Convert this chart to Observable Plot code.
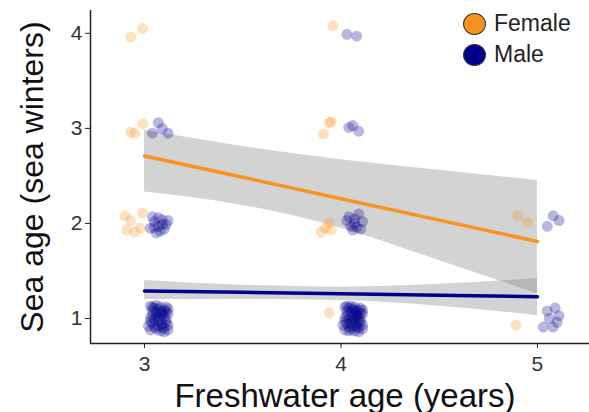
<!DOCTYPE html>
<html>
<head>
<meta charset="utf-8">
<script src="https://cdn.jsdelivr.net/npm/d3@7"></script>
<script src="https://cdn.jsdelivr.net/npm/@observablehq/plot@0.6"></script>
<style>
  body { margin: 0; background: #fff; font-family: "Liberation Sans", Arial, sans-serif; }
  #wrap { position: relative; width: 589px; height: 412px; }
  #legend { position: absolute; left: 463px; top: 8px; font-size: 23px; color: #222; }
  #legend .row { display: flex; align-items: center; height: 31px; }
  #legend .sw { width: 23px; height: 22px; border-radius: 50%; border: 1.5px solid #3a3a3a; margin-right: 8px; box-sizing: border-box; }
</style>
</head>
<body>
<div id="wrap"></div>
<script>
const sexes = ["Female", "Male"];
const colors = ["#F7931E", "#00008B"];
const xTicks = [3, 4, 5];
const yTicks = [1, 2, 3, 4];
const xDomain = [2.725, 5.265];
const yDomain = [0.737, 4.24];

const femalePoints = [
  [2.93,3.96],[2.99,4.05],
  [2.95,2.95],[2.99,3.05],[2.93,2.96],
  [2.90,2.08],[2.93,2.03],[2.91,1.93],[2.95,1.91],[2.99,2.11],[2.98,1.95],
  [3.96,4.08],
  [3.94,3.06],[3.91,2.94],[3.95,3.07],
  [3.90,1.91],[3.94,2.01],[3.95,1.93],[3.92,1.95],
  [3.94,1.06],
  [4.90,2.08],[4.95,2.01],
  [4.89,0.93]
];
const malePoints = [
  [3.07,3.06],[3.04,2.95],[3.12,2.95],[3.09,3.00],
  [3.03,1.95],[3.05,2.02],[3.07,1.97],[3.09,2.04],[3.11,1.99],[3.04,2.07],[3.08,1.92],[3.10,1.94],[3.06,1.90],[3.12,2.03],[3.07,2.06],[3.05,1.96],[3.09,1.99],
  [3.03,0.88],[3.05,0.91],[3.08,0.87],[3.10,0.90],[3.12,0.88],[3.04,0.95],[3.07,0.97],[3.09,0.94],[3.11,0.96],[3.03,1.01],[3.06,1.03],[3.08,0.99],[3.10,1.02],[3.12,1.05],[3.04,1.08],[3.07,1.10],[3.09,1.07],[3.11,1.12],[3.03,1.13],[3.06,1.14],[3.08,1.12],[3.05,0.99],[3.09,1.04],[3.02,0.92],[3.11,0.99],[3.06,1.07],[3.10,1.09],[3.04,1.03],[3.07,0.92],[3.12,0.93],[3.05,1.11],[3.08,1.06],[3.03,0.97],[3.10,0.86],[3.06,0.89],[3.12,1.10],[3.04,1.12],[3.09,0.91],[3.07,1.01],[3.11,1.07],
  [4.03,3.99],[4.08,3.97],
  [4.04,3.01],[4.09,2.97],[4.06,3.03],
  [4.03,2.03],[4.05,1.97],[4.07,2.05],[4.09,2.10],[4.11,2.02],[4.06,1.93],[4.08,1.96],[4.04,2.07],[4.10,1.94],[4.07,2.00],
  [4.02,0.88],[4.04,0.91],[4.07,0.87],[4.09,0.90],[4.11,0.89],[4.03,0.95],[4.06,0.97],[4.08,0.94],[4.10,0.96],[4.02,1.01],[4.05,1.03],[4.07,0.99],[4.09,1.02],[4.11,1.05],[4.03,1.08],[4.06,1.10],[4.08,1.07],[4.10,1.11],[4.02,1.12],[4.05,1.13],[4.07,1.12],[4.04,0.99],[4.08,1.04],[4.01,0.93],[4.10,0.99],[4.05,1.07],[4.09,1.09],[4.03,1.03],[4.06,0.92],[4.11,0.93],[4.04,1.11],[4.07,1.06],[4.02,0.97],[4.09,0.86],[4.05,0.89],[4.11,1.09],[4.03,1.13],[4.08,0.91],[4.06,1.01],[4.10,1.06],[4.04,0.87],[4.07,1.09],[4.09,0.97],[4.05,0.95],[4.08,1.01],
  [5.08,2.08],[5.11,2.03],[5.05,1.97],
  [5.05,1.08],[5.09,1.11],[5.11,1.03],[5.03,0.91],[5.08,0.91],[5.10,0.96],[5.06,1.00]
];

// fitted lines and confidence bands
const fitX = [3, 3.5, 4, 4.5, 5];
const femaleFit = [2.71, 2.485, 2.26, 2.035, 1.81];
const femaleLo  = [2.33, 2.19, 1.95, 1.61, 1.26];
const femaleHi  = [2.98, 2.81, 2.67, 2.56, 2.45];
const maleFit = [1.29, 1.275, 1.26, 1.245, 1.23];
const maleLo  = [1.20, 1.20, 1.19, 1.13, 1.03];
const maleHi  = [1.40, 1.35, 1.33, 1.36, 1.42];

const pts = [
  ...femalePoints.map(([x, y]) => ({x, y, sex: "Female"})),
  ...malePoints.map(([x, y]) => ({x, y, sex: "Male"}))
];
const fits = [
  ...fitX.map((x, i) => ({x, y: femaleFit[i], lo: femaleLo[i], hi: femaleHi[i], sex: "Female"})),
  ...fitX.map((x, i) => ({x, y: maleFit[i], lo: maleLo[i], hi: maleHi[i], sex: "Male"}))
];

const chart = Plot.plot({
  width: 589,
  height: 412,
  marginLeft: 90,
  marginRight: 0,
  marginTop: 10,
  marginBottom: 69,
  style: {fontFamily: "'Liberation Sans', Arial, sans-serif", background: "#fff", color: "#333", overflow: "visible"},
  x: {domain: xDomain, ticks: xTicks},
  y: {domain: yDomain, ticks: yTicks},
  color: {domain: sexes, range: colors},
  marks: [
    Plot.areaY(fits, {x: "x", y1: "lo", y2: "hi", z: "sex", fill: "#808080", fillOpacity: 0.35, curve: "monotone-x"}),
    Plot.dot(pts, {x: "x", y: "y", r: 5.5, fill: "sex", fillOpacity: 0.28}),
    Plot.line(fits, {x: "x", y: "y", z: "sex", stroke: "sex", strokeWidth: 3.5, curve: "linear"}),
    Plot.ruleY([yDomain[0]], {stroke: "#222", strokeWidth: 1.5}),
    Plot.ruleX([xDomain[0]], {stroke: "#222", strokeWidth: 1.5}),
    Plot.axisX(xTicks, {tickSize: 5, tickPadding: 8, fontSize: 21, label: null, tickFormat: d => String(d), stroke: "#222", fill: "#333"}),
    Plot.axisY(yTicks, {tickSize: 5, tickPadding: 3, fontSize: 21, label: null, tickFormat: d => String(d), stroke: "#222", fill: "#333"}),
    Plot.text(["Freshwater age (years)"], {frameAnchor: "bottom", textAnchor: "middle", dx: 5, dy: 63, lineAnchor: "bottom", fontSize: 33, fill: "#111"}),
    Plot.text(["Sea age (sea winters)"], {frameAnchor: "left", textAnchor: "middle", dx: -58, rotate: -90, fontSize: 32, fill: "#111"})
  ]
});
const wrap = document.getElementById("wrap");
wrap.appendChild(chart);

const legend = document.createElement("div");
legend.id = "legend";
sexes.forEach((s, i) => {
  const row = document.createElement("div");
  row.className = "row";
  const sw = document.createElement("span");
  sw.className = "sw";
  sw.style.background = colors[i];
  const t = document.createElement("span");
  t.textContent = s;
  row.appendChild(sw);
  row.appendChild(t);
  legend.appendChild(row);
});
wrap.appendChild(legend);
</script>
</body>
</html>
